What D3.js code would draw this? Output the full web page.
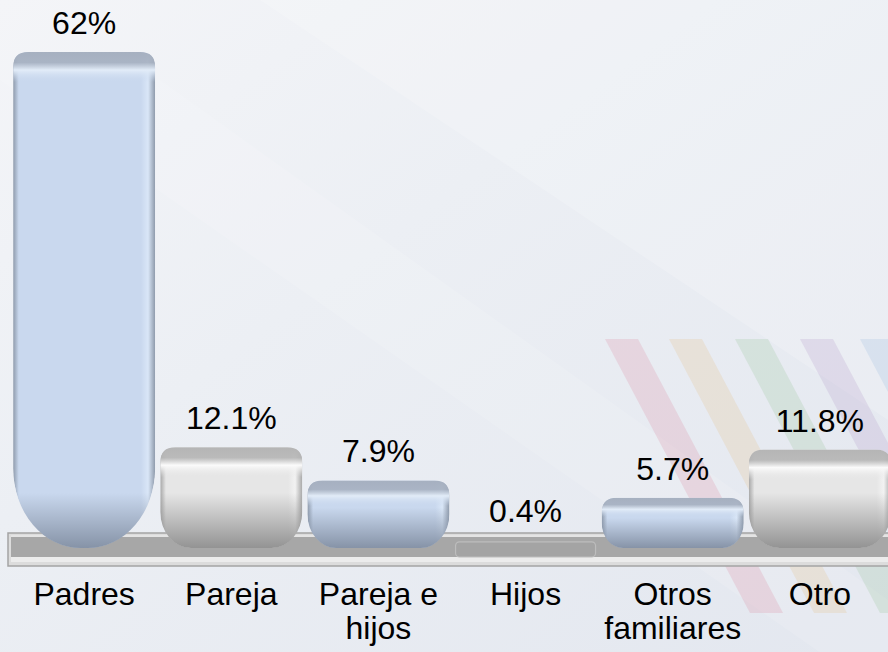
<!DOCTYPE html>
<html>
<head>
<meta charset="utf-8">
<script src="https://cdn.jsdelivr.net/npm/d3@7"></script>
<style>
	body { margin: 0; background: #e8ecf3; }
	svg { display: block; }
</style>
</head>
<body>
<svg id="chart" width="888" height="652"></svg>
<script>

var aCategories = ['Padres', 'Pareja', 'Pareja e hijos', 'Hijos', 'Otros familiares', 'Otro'];
var aValues = [62, 12.1, 7.9, 0.4, 5.7, 11.8];
var aValueLabels = ['62%', '12.1%', '7.9%', '0.4%', '5.7%', '11.8%'];

function D3_CapsuleBars(vSelector)
{
	var sSvg = d3.select(vSelector);
	if (sSvg.empty() == true)
	{
		console.log('D3_CapsuleBars: Could not identify element: ' + vSelector);
		return;
	}

	var nSvgWidth = 888;
	var nSvgHeight = 652;
	var strFont = '"Liberation Sans", Arial, sans-serif';
	var nFontSize = 32;

	var nZeroY = 543;      // where value 0 sits
	var nBaseY = 548;      // visible bottom of the capsules
	var nFloorTop = 533;
	var nFloorBottom = 566;

	var sDefs = sSvg.append('defs');

	// background
	var gBack = sDefs.append('linearGradient')
		.attr('id', 'bg').attr('x1', 0).attr('y1', 0).attr('x2', 1).attr('y2', 1);
	gBack.append('stop').attr('offset', '0%').attr('stop-color', '#f4f5f8');
	gBack.append('stop').attr('offset', '40%').attr('stop-color', '#eceff4');
	gBack.append('stop').attr('offset', '100%').attr('stop-color', '#e3e7ef');

	sSvg.append('rect')
		.attr('width', nSvgWidth).attr('height', nSvgHeight)
		.attr('fill', 'url(#bg)');

	// soft diagonal streaks
	sSvg.append('path')
		.attr('d', 'M0,80 L160,80 L888,600 L888,700 Z')
		.attr('fill', '#ffffff').attr('fill-opacity', 0.12);
	sSvg.append('path')
		.attr('d', 'M260,0 L888,0 L888,420 Z')
		.attr('fill', '#ffffff').attr('fill-opacity', 0.18);

	// decorative slanted stripes
	var aStripes = [
		{x: 605, color: 'rgba(215,110,140,0.18)'},
		{x: 669, color: 'rgba(228,185,120,0.20)'},
		{x: 735, color: 'rgba(140,190,140,0.20)'},
		{x: 800, color: 'rgba(170,140,195,0.20)'},
		{x: 860, color: 'rgba(140,180,220,0.20)'}
	];
	aStripes.forEach(function(stripe)
	{
		sSvg.append('path')
			.attr('d', 'M' + stripe.x + ',339 L' + (stripe.x + 33) + ',339 L' + (stripe.x + 178) + ',613 L' + (stripe.x + 145) + ',613 Z')
			.attr('fill', stripe.color);
	});

	var scaleX = d3.scaleBand()
		.domain(aCategories)
		.range([8, 896])
		.padding(0.035);

	var scaleY = d3.scaleLinear()
		.domain([0, d3.max(aValues)])
		.range([nZeroY, 52]);

	// floor
	var sFloor = sSvg.append('g');
	sFloor.append('rect')
		.attr('x', 8).attr('y', nFloorTop).attr('width', 890).attr('height', nFloorBottom - nFloorTop)
		.attr('fill', '#dcdcdc').attr('stroke', '#a4a4a4').attr('stroke-width', 1.5);
	sFloor.append('rect')
		.attr('x', 11).attr('y', nFloorTop + 4).attr('width', 890).attr('height', 20)
		.attr('fill', '#a7a7a7');
	sFloor.append('rect')
		.attr('x', 11).attr('y', nFloorTop + 2).attr('width', 890).attr('height', 2)
		.attr('fill', '#e4e4e4');
	sFloor.append('rect')
		.attr('x', 11).attr('y', nFloorTop + 24).attr('width', 890).attr('height', 5)
		.attr('fill', '#ececec');

	// gradients for the two bar looks
	var aLooks = [
		{id: 'blue', edge: '#8e9aab', mid: '#c9d8ee', rim: '#d9e6f7', hi: '#e2ecf8', top: '#a6b0c0', bottom: '#8693a7'},
		{id: 'white', edge: '#a8a8a8', mid: '#e6e6e6', rim: '#f2f2f2', hi: '#fbfbfb', top: '#b5b5b5', bottom: '#939393'}
	];
	aLooks.forEach(function(look)
	{
		var g = sDefs.append('linearGradient').attr('id', 'h-' + look.id)
			.attr('x1', 0).attr('x2', 1).attr('y1', 0).attr('y2', 0);
		g.append('stop').attr('offset', '0%').attr('stop-color', look.edge);
		g.append('stop').attr('offset', '4%').attr('stop-color', look.mid);
		g.append('stop').attr('offset', '90%').attr('stop-color', look.mid);
		g.append('stop').attr('offset', '95%').attr('stop-color', look.rim);
		g.append('stop').attr('offset', '100%').attr('stop-color', look.edge);

		var b = sDefs.append('linearGradient').attr('id', 'b-' + look.id)
			.attr('x1', 0).attr('x2', 0).attr('y1', 0).attr('y2', 1);
		b.append('stop').attr('offset', '0%').attr('stop-color', look.bottom).attr('stop-opacity', 0);
		b.append('stop').attr('offset', '100%').attr('stop-color', look.bottom).attr('stop-opacity', 1);

		var t = sDefs.append('linearGradient').attr('id', 't-' + look.id)
			.attr('x1', 0).attr('x2', 0).attr('y1', 0).attr('y2', 1);
		t.append('stop').attr('offset', '0%').attr('stop-color', look.top);
		t.append('stop').attr('offset', '35%').attr('stop-color', look.top).attr('stop-opacity', 0.9);
		t.append('stop').attr('offset', '60%').attr('stop-color', look.hi);
		t.append('stop').attr('offset', '100%').attr('stop-color', look.mid).attr('stop-opacity', 0);
	});

	function CapsulePath(x, yTop, w, yBottom)
	{
		var h = yBottom - yTop;
		var rt = Math.min(15, h / 3);
		var rby = Math.min(h / 2, Math.max(36, h * 0.16));
		var rbx = Math.min(w / 2, rby * 0.85);
		return 'M' + x + ',' + (yTop + rt) +
			' Q' + x + ',' + yTop + ' ' + (x + rt) + ',' + yTop +
			' L' + (x + w - rt) + ',' + yTop +
			' Q' + (x + w) + ',' + yTop + ' ' + (x + w) + ',' + (yTop + rt) +
			' L' + (x + w) + ',' + (yBottom - rby) +
			' A' + rbx + ',' + rby + ' 0 0 1 ' + (x + w - rbx) + ',' + yBottom +
			' L' + (x + rbx) + ',' + yBottom +
			' A' + rbx + ',' + rby + ' 0 0 1 ' + x + ',' + (yBottom - rby) + ' Z';
	}

	var nBand = scaleX.bandwidth();

	for (var nIndex = 0; nIndex < aCategories.length; nIndex++)
	{
		var strCat = aCategories[nIndex];
		var fValue = aValues[nIndex];
		var look = aLooks[nIndex % 2];
		var x = scaleX(strCat);
		var yTop = scaleY(fValue);
		var h = nBaseY - yTop;

		if (h < 15)
		{
			// too small to stand up: sunken tile inside the floor
			sSvg.append('rect')
				.attr('x', x + 1).attr('y', yTop + 2)
				.attr('width', nBand - 2).attr('height', nBaseY + 9 - yTop - 2)
				.attr('rx', 4)
				.attr('fill', '#a4a4a4')
				.attr('stroke', '#bdbdbd').attr('stroke-width', 1.2);
		}
		else
		{
			var strPath = CapsulePath(x, yTop, nBand, nBaseY);
			sDefs.append('clipPath').attr('id', 'clip' + nIndex)
				.append('path').attr('d', strPath);

			var sBar = sSvg.append('g').attr('clip-path', 'url(#clip' + nIndex + ')');
			sBar.append('path').attr('d', strPath).attr('fill', 'url(#h-' + look.id + ')');
			// top face and highlight
			sBar.append('rect')
				.attr('x', x).attr('y', yTop)
				.attr('width', nBand).attr('height', Math.min(30, h * 0.38))
				.attr('fill', 'url(#t-' + look.id + ')');
			// shadow towards the bottom
			var nShade = Math.min(55, h * 0.6);
			sBar.append('rect')
				.attr('x', x).attr('y', nBaseY - nShade)
				.attr('width', nBand).attr('height', nShade)
				.attr('fill', 'url(#b-' + look.id + ')');
		}

		sSvg.append('text')
			.attr('x', x + nBand / 2)
			.attr('y', yTop - 18)
			.attr('text-anchor', 'middle')
			.style('font-family', strFont)
			.style('font-size', nFontSize + 'px')
			.attr('fill', '#000')
			.text(aValueLabels[nIndex]);
	}

	// category labels, wrapped into the band width
	var axisX = d3.axisBottom(scaleX).tickSize(0).tickPadding(0);
	var sAxis = sSvg.append('g')
		.attr('transform', 'translate(0,' + 580 + ')')
		.call(axisX);
	sAxis.select('.domain').remove();
	sAxis.selectAll('text')
		.style('font-family', strFont)
		.style('font-size', nFontSize + 'px')
		.attr('fill', '#000')
		.attr('dy', null)
		.attr('y', 0)
		.each(function(strLabel)
		{
			var sText = d3.select(this);
			var aWords = strLabel.split(' ');
			sText.text(null);
			var aLines = [];
			var strLine = '';
			var sProbe = sText.append('tspan');
			aWords.forEach(function(strWord)
			{
				var strTry = strLine == '' ? strWord : strLine + ' ' + strWord;
				sProbe.text(strTry);
				if (sProbe.node().getComputedTextLength() > nBand && strLine != '')
				{
					aLines.push(strLine);
					strLine = strWord;
				}
				else
				{
					strLine = strTry;
				}
			});
			aLines.push(strLine);
			sProbe.remove();
			aLines.forEach(function(strPart, nLine)
			{
				sText.append('tspan')
					.attr('x', 0)
					.attr('y', 25 + nLine * 34)
					.text(strPart);
			});
		});
}

D3_CapsuleBars('#chart');

</script>
</body>
</html>
